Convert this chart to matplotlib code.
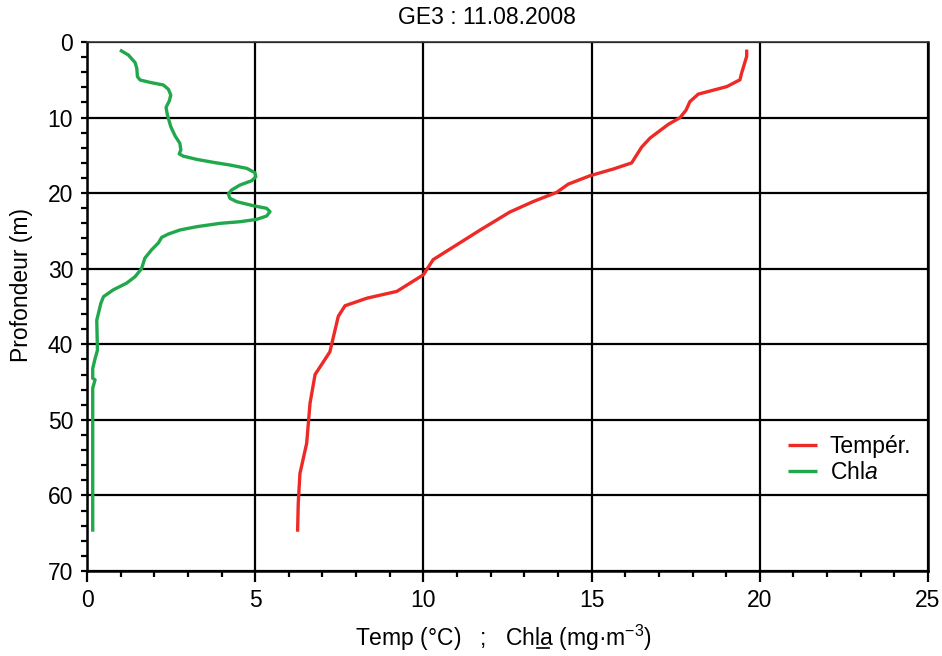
import matplotlib
matplotlib.use("Agg")
import matplotlib.pyplot as plt
from matplotlib.lines import Line2D
from matplotlib.ticker import MultipleLocator

plt.rcParams['font.family'] = ['Liberation Sans', 'DejaVu Sans']
plt.rcParams['mathtext.fontset'] = 'custom'
plt.rcParams['mathtext.rm'] = 'Liberation Sans'
plt.rcParams['mathtext.it'] = 'Liberation Sans:italic'

# temperature profile (degC vs depth m)
temp = [19.61, 19.61, 19.46, 19.41, 19.02, 18.17, 17.92, 17.81, 17.63, 17.28,
        16.74, 16.49, 16.19, 15.65, 14.95, 14.31, 13.96, 13.27, 12.57,
        11.68, 11.29, 10.29, 10.0, 9.21, 8.32, 7.67, 7.47, 7.22, 7.03, 6.78,
        6.63, 6.53, 6.33, 6.28, 6.26]
temp_depth = [1.0, 1.9, 4.1, 5.0, 5.9, 6.9, 7.9, 9.0, 10.0, 10.9,
              12.7, 13.9, 16.0, 16.8, 17.7, 18.8, 19.9, 21.1, 22.5,
              24.9, 26.0, 28.8, 30.8, 33.0, 33.9, 34.9, 36.3, 41.0, 42.3, 44.0,
              47.8, 53.1, 57.1, 61.0, 64.8]

# chlorophyll a profile (mg m-3 vs depth m)
chl = [0.98, 1.23, 1.43, 1.48, 1.50, 1.58, 1.87, 2.27, 2.42, 2.49, 2.45, 2.35,
       2.39, 2.49, 2.62, 2.76, 2.79, 2.74, 2.86, 3.26, 3.75, 4.25, 4.75, 4.99,
       5.02, 4.90, 4.55, 4.30, 4.20, 4.25, 4.45, 4.94, 5.34, 5.44, 5.34, 5.04,
       4.55, 3.95, 3.26, 2.76, 2.42, 2.22, 2.12, 1.92, 1.72, 1.62, 1.43, 1.18,
       0.78, 0.49, 0.41, 0.34, 0.29, 0.31, 0.24, 0.17, 0.17, 0.24, 0.17, 0.17]
chl_depth = [1.06, 1.72, 2.73, 3.48, 4.59, 5.03, 5.34, 5.69, 6.26, 7.01, 7.76, 8.65,
             9.66, 11.2, 12.44, 13.4, 14.29, 14.8, 15.1, 15.53, 15.92, 16.28, 16.72, 17.29,
             17.82, 18.35, 18.92, 19.58, 20.11, 20.69, 21.13, 21.66, 22.01, 22.45, 23.03, 23.47,
             23.78, 24.0, 24.44, 24.88, 25.41, 25.85, 26.6, 27.5, 28.6, 30.0, 31.05, 31.9,
             32.8, 33.7, 34.6, 35.9, 36.8, 40.8, 41.9, 43.2, 44.5, 44.7, 45.8, 64.8]

FS = 16.5
fig = plt.figure(figsize=(9.42, 6.56), dpi=100)
ax = fig.add_axes([87/942, 1-571/656, (928-87)/942, (571-42)/656])

ax.plot(temp, temp_depth, color='#ee2a27', lw=2.4, label='Tempér.', zorder=3,
        solid_joinstyle='round', solid_capstyle='butt')
ax.plot(chl, chl_depth, color='#21a84c', lw=2.4, label='Chl$\\it{a}$', zorder=3,
        solid_joinstyle='round', solid_capstyle='butt')

ax.set_xlim(0, 25)
ax.set_ylim(70, 0)
ax.xaxis.set_major_locator(MultipleLocator(5))
ax.xaxis.set_minor_locator(MultipleLocator(1))
ax.yaxis.set_major_locator(MultipleLocator(10))
ax.yaxis.set_minor_locator(MultipleLocator(2))
ax.grid(True, which='major', color='black', lw=1.6)
ax.set_axisbelow(True)
ax.tick_params(axis='x', which='major', length=8, width=1.6, labelsize=FS, pad=5, direction='out')
ax.tick_params(axis='x', which='minor', length=4, width=1.6, direction='out')
ax.tick_params(axis='y', which='both', length=4, width=1.6, labelsize=FS, pad=6, direction='out')
for s in ['left', 'bottom', 'right']:
    ax.spines[s].set_linewidth(1.8)
ax.spines['top'].set_linestyle((0, (1, 1)))
ax.spines['top'].set_linewidth(1.2)
ax.spines['top'].set_color('#333333')

leg = ax.legend(loc='upper left', bbox_to_anchor=(0.833, 0.257), frameon=False,
                fontsize=FS, handlelength=1.3, handletextpad=0.55, labelspacing=0.12,
                borderaxespad=0, borderpad=0)

fig.text(487/942, 1-18/656, 'GE3 : 11.08.2008', ha='center', va='center', fontsize=FS)
fig.text(22/942, 1-285/656, 'Profondeur (m)', ha='center', va='center',
         rotation=90, fontsize=FS)

prefix = 'Temp (°C)   ;   Chl'
xlab = prefix + 'a (mg·m$^{-3}$)'
base_y = 10 / 656
xl = fig.text(355/942, base_y, xlab, ha='left', va='baseline', fontsize=FS)

# underline the "a" of Chla
fig.canvas.draw()
r = fig.canvas.get_renderer()
t1 = fig.text(0, 0.5, prefix, fontsize=FS)
t2 = fig.text(0, 0.5, prefix + 'a', fontsize=FS)
w1 = t1.get_window_extent(r).width
w2 = t2.get_window_extent(r).width
t1.remove()
t2.remove()
x0 = xl.get_window_extent(r).x0
yb = base_y * 656 - 2
fig.add_artist(Line2D([(x0 + w1) / 942, (x0 + w2) / 942], [yb / 656, yb / 656],
                      color='black', lw=1.2, transform=fig.transFigure))

fig.savefig('out.png', dpi=100)
